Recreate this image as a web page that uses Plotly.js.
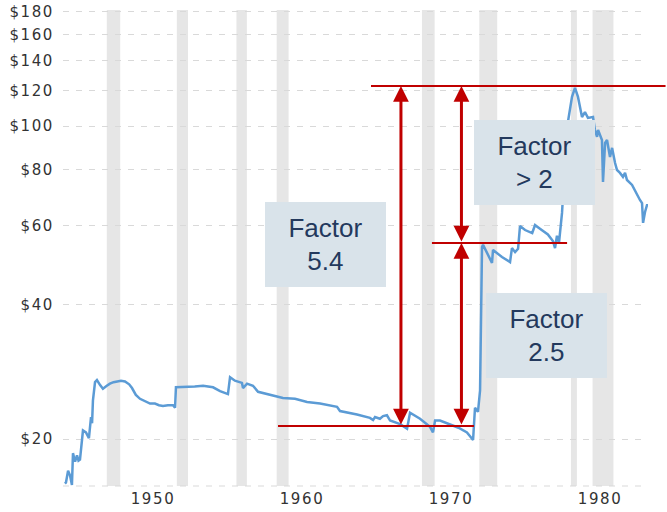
<!DOCTYPE html>
<html>
<head>
<meta charset="utf-8">
<script src="https://cdn.plot.ly/plotly-3.0.1.min.js"></script>
<style>
html,body{margin:0;padding:0;background:#fff;}
#chart{width:667px;height:512px;}
.xtick text,.ytick text{letter-spacing:1.6px;}
</style>
</head>
<body>
<div id="chart"></div>
<script>
// ---- data ----
const years = [1944.09,1944.16,1944.30,1944.43,1944.56,1944.63,1944.77,1944.90,1945.00,1945.10,1945.30,1945.50,1945.70,1945.84,1945.91,1945.97,1946.11,1946.24,1946.45,1946.64,1946.90,1947.11,1947.35,1947.58,1947.85,1948.12,1948.40,1948.59,1948.85,1949.13,1949.50,1949.80,1950.13,1950.40,1950.67,1951.00,1951.34,1951.48,1951.54,1952.28,1952.80,1953.36,1954.03,1954.50,1955.03,1955.17,1955.50,1955.97,1956.04,1956.31,1956.71,1957.05,1957.85,1958.72,1959.53,1960.34,1961.21,1962.35,1962.55,1963.69,1964.56,1964.77,1964.90,1965.23,1965.44,1965.70,1965.91,1966.58,1967.05,1967.25,1967.92,1968.59,1968.79,1968.93,1969.26,1969.93,1970.50,1971.07,1971.48,1971.61,1971.81,1971.95,1972.08,1972.15,1972.45,1972.75,1972.82,1973.42,1973.96,1974.09,1974.30,1974.50,1974.63,1974.97,1975.45,1975.64,1975.97,1976.50,1976.85,1976.98,1977.11,1977.25,1977.45,1977.60,1977.79,1978.12,1978.32,1978.52,1978.79,1978.99,1979.19,1979.53,1979.66,1979.80,1979.87,1980.13,1980.20,1980.34,1980.47,1980.67,1980.81,1981.01,1981.14,1981.34,1981.54,1981.68,1981.81,1982.15,1982.48,1982.68,1982.82,1982.89,1983.02,1983.15,1983.22];
const prices = [15.9,16.0,17.0,16.6,15.8,18.6,17.8,18.4,17.9,18.0,20.9,20.7,20.1,22.4,21.7,24.4,26.8,27.1,26.4,25.9,26.3,26.6,26.8,26.9,27.0,26.9,26.5,26.0,25.1,24.6,24.3,24.0,24.0,23.8,23.7,23.8,23.8,23.5,26.1,26.1,26.2,26.3,26.1,25.6,25.2,27.5,27.0,26.7,26.0,26.6,26.3,25.5,25.1,24.7,24.6,24.2,24.0,23.6,23.1,22.7,22.3,22.05,22.4,22.2,22.5,22.6,22.0,21.6,21.1,22.9,22.2,21.3,20.7,22.0,22.0,21.6,21.2,20.7,19.9,23.5,23.0,25.7,53.7,54.3,52.0,49.5,52.9,51.0,49.7,53.4,52.3,53.2,59.8,58.6,57.7,60.1,59.0,57.3,55.3,53.4,56.9,55.0,64.0,77.8,99.5,116.2,121.7,116.2,104.8,107.5,104.3,104.8,98.0,94.6,98.0,93.1,75.0,91.7,93.1,85.3,89.4,82.7,79.8,78.6,77.0,78.6,75.8,73.9,70.2,68.4,67.3,60.8,64.3,66.6,66.6];

const recessionStart = [1946.9,1951.6,1955.6,1958.3,1968.05,1971.9,1978.05,1979.5];
const recessionEnd   = [1947.8,1952.35,1956.3,1959.1,1968.9,1973.1,1978.45,1980.9];

const yTickVals = [20,40,60,80,100,120,140,160,180];
const yTickText = ['$20','$40','$60','$80','$100','$120','$140','$160','$180'];
const xTickVals = [1950,1960,1970,1980];

// reference levels for the factor annotations
const levelLow = 21.4, levelMid = 54.8, levelHigh = 122.9;
const arrowYearLeft = 1966.64, arrowYearRight = 1970.70;
const lowLineYears = [1958.39,1971.54];
const midLineYears = [1968.72,1977.79];
const boxLabels = ['Factor<br>5.4','Factor<br>&gt; 2','Factor<br>2.5'];
const boxYears = [1961.58,1975.60,1976.41];
const boxValues = [54.4,83.1,34.1];

// ---- build ----
const RED = '#c00000';
const shapes = [];
for (let i = 0; i < recessionStart.length; i++) {
  shapes.push({type:'rect', xref:'x', yref:'paper', x0:recessionStart[i], x1:recessionEnd[i], y0:0, y1:1,
    fillcolor:'#e6e6e6', line:{width:0}, layer:'below'});
}
// bottom dashed grid line
shapes.push({type:'line', xref:'paper', yref:'paper', x0:0, x1:1, y0:0, y1:0,
  line:{color:'#d9d9d9', width:1, dash:'6px,7px'}, layer:'below'});
// red level lines
shapes.push({type:'line', xref:'paper', yref:'y', x0:0.5265, x1:1.03, y0:levelHigh, y1:levelHigh, line:{color:RED, width:2}});
shapes.push({type:'line', xref:'x', yref:'y', x0:midLineYears[0], x1:midLineYears[1], y0:levelMid, y1:levelMid, line:{color:RED, width:2}});
shapes.push({type:'line', xref:'x', yref:'y', x0:lowLineYears[0], x1:lowLineYears[1], y0:levelLow, y1:levelLow, line:{color:RED, width:2}});

function arrow(xv, fromV, toV) {
  return {x:xv, y:Math.log10(toV), ax:xv, ay:Math.log10(fromV), xref:'x', yref:'y', axref:'x', ayref:'y',
    text:'', showarrow:true, arrowhead:2, startarrowhead:2, arrowside:'end+start',
    arrowsize:1.05, startarrowsize:1.05, arrowwidth:3, arrowcolor:RED, standoff:0, startstandoff:0,
    font:{size:1}};
}
const annotations = [
  arrow(arrowYearLeft, levelLow, levelHigh),
  arrow(arrowYearRight, levelMid, levelHigh),
  arrow(arrowYearRight, levelLow, levelMid)
];
for (let i = 0; i < boxLabels.length; i++) {
  annotations.push({x:boxYears[i], y:Math.log10(boxValues[i]), xref:'x', yref:'y', text:boxLabels[i],
    showarrow:false, width:121, height:85, bgcolor:'#d9e3ea', borderwidth:0, borderpad:0,
    align:'center', valign:'middle', xanchor:'center', yanchor:'middle',
    font:{family:'Liberation Sans, Arial, sans-serif', size:26, color:'#23395d'}});
}

const trace = {x:years, y:prices, type:'scatter', mode:'lines',
  line:{color:'#5b9bd5', width:2.5}, hoverinfo:'skip'};

const layout = {
  width:667, height:512,
  margin:{l:63, r:19, t:10, b:26, pad:0},
  paper_bgcolor:'#ffffff', plot_bgcolor:'#ffffff',
  showlegend:false,
  font:{family:'DejaVu Sans, Verdana, sans-serif', size:15, color:'#333333'},
  xaxis:{range:[1943.96,1983.22], tickvals:xTickVals, ticktext:xTickVals.map(String),
    showgrid:false, zeroline:false, showline:false, ticks:'', ticklabelstandoff:2,
    tickfont:{size:15, color:'#333333'}},
  yaxis:{type:'log', range:[Math.log10(15.71), Math.log10(181.7)], tickvals:yTickVals, ticktext:yTickText,
    showgrid:true, gridcolor:'#d9d9d9', gridwidth:1, griddash:'6px,7px', zeroline:false, showline:false,
    ticks:'', ticklabelstandoff:8, tickfont:{size:15, color:'#333333'}},
  shapes:shapes,
  annotations:annotations
};
Plotly.newPlot('chart', [trace], layout, {displayModeBar:false, staticPlot:true});
</script>
</body>
</html>
